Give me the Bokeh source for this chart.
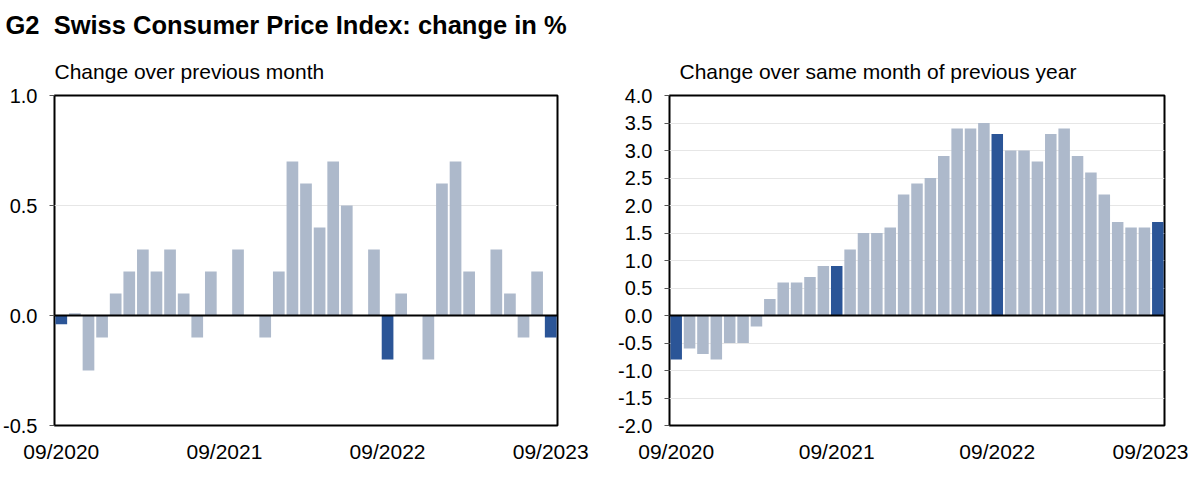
from bokeh.plotting import figure
from bokeh.models import Range1d, FixedTicker, PrintfTickFormatter, Span, Title, ColumnDataSource
from bokeh.layouts import row
from bokeh.embed import file_html
from bokeh.resources import INLINE

# ---- data ----
months = ["09/2020", "10/2020", "11/2020", "12/2020", "01/2021", "02/2021", "03/2021", "04/2021",
          "05/2021", "06/2021", "07/2021", "08/2021", "09/2021", "10/2021", "11/2021", "12/2021",
          "01/2022", "02/2022", "03/2022", "04/2022", "05/2022", "06/2022", "07/2022", "08/2022",
          "09/2022", "10/2022", "11/2022", "12/2022", "01/2023", "02/2023", "03/2023", "04/2023",
          "05/2023", "06/2023", "07/2023", "08/2023", "09/2023"]
mom = [-0.04, 0.01, -0.25, -0.1, 0.1, 0.2, 0.3, 0.2, 0.3, 0.1, -0.1, 0.2, 0.0, 0.3, 0.0, -0.1,
       0.2, 0.7, 0.6, 0.4, 0.7, 0.5, 0.0, 0.3, -0.2, 0.1, 0.0, -0.2, 0.6, 0.7, 0.2, 0.0,
       0.3, 0.1, -0.1, 0.2, -0.1]
yoy = [-0.8, -0.6, -0.7, -0.8, -0.5, -0.5, -0.2, 0.3, 0.6, 0.6, 0.7, 0.9, 0.9, 1.2, 1.5, 1.5,
       1.6, 2.2, 2.4, 2.5, 2.9, 3.4, 3.4, 3.5, 3.3, 3.0, 3.0, 2.8, 3.3, 3.4, 2.9, 2.6,
       2.2, 1.7, 1.6, 1.6, 1.7]
x_tick_labels = ["09/2020", "09/2021", "09/2022", "09/2023"]
left_yticks = [-0.5, 0.0, 0.5, 1.0]
right_yticks = [-2.0, -1.5, -1.0, -0.5, 0.0, 0.5, 1.0, 1.5, 2.0, 2.5, 3.0, 3.5, 4.0]

LIGHT = "#adb9cb"
DARK = "#2b5597"
FONT = "Liberation Sans"

idx = list(range(len(months)))
colors = [DARK if m.startswith("09/") else LIGHT for m in months]
tick_pos = [i for i, m in enumerate(months) if m in x_tick_labels]


def make_panel(values, yr, yticks, grid_ticks, fl, fw, fr, ft, fh, fb):
    p = figure(width=fl + fw + fr, height=ft + fh + fb, frame_width=fw, frame_height=fh,
               min_border_left=fl, min_border_right=fr, min_border_top=ft, min_border_bottom=fb,
               x_range=Range1d(-0.5, len(values) - 0.5), y_range=Range1d(*yr),
               output_backend="svg", toolbar_location=None, title=None)
    src = ColumnDataSource(dict(x=idx, top=values, color=colors))
    p.vbar(x="x", top="top", bottom=0, width=0.86, fill_color="color", line_color=None, source=src)
    p.add_layout(Span(location=0, dimension="width", line_color="black", line_width=2))
    p.outline_line_color = "black"
    p.outline_line_width = 2
    p.xgrid.visible = False
    p.ygrid.ticker = FixedTicker(ticks=grid_ticks)
    p.ygrid.grid_line_color = "#e6e6e6"
    p.ygrid.grid_line_width = 1
    xa = p.xaxis[0]
    xa.ticker = FixedTicker(ticks=tick_pos)
    xa.major_label_overrides = {t: lab for t, lab in zip(tick_pos, x_tick_labels)}
    xa.axis_line_color = None
    xa.major_tick_line_color = None
    xa.minor_tick_line_color = None
    xa.major_tick_out = 0
    xa.major_label_standoff = 14
    xa.major_label_text_font = FONT
    xa.major_label_text_font_size = "21px"
    xa.major_label_text_color = "black"
    ya = p.yaxis[0]
    ya.ticker = FixedTicker(ticks=yticks)
    ya.formatter = PrintfTickFormatter(format="%.1f")
    ya.axis_line_color = None
    ya.major_tick_in = 0
    ya.major_tick_out = 5
    ya.major_tick_line_color = "#555555"
    ya.minor_tick_line_color = None
    ya.major_label_standoff = 12
    ya.major_label_text_font = FONT
    ya.major_label_text_font_size = "20px"
    ya.major_label_text_color = "black"
    p.background_fill_color = "white"
    p.border_fill_color = "white"
    return p


p1 = make_panel(mom, (-0.5, 1.0), left_yticks, [0.5], 50, 503, 39, 92, 330, 56)
p2 = make_panel(yoy, (-2.0, 4.0), right_yticks, [t for t in right_yticks if t != 0.0], 73, 495, 24, 95, 330, 53)

p1.add_layout(Title(text="Change over previous month", align="left", text_font=FONT, text_color="black",
                    text_font_size="21px", text_font_style="normal", standoff=26), "above")
p1.add_layout(Title(text="G2\u00a0\u00a0Swiss Consumer Price Index: change in %", align="left", offset=-49,
                    text_font=FONT, text_color="black", text_font_size="25.5px", text_font_style="bold",
                    standoff=12), "above")
p2.add_layout(Title(text="Change over same month of previous year", align="left", offset=10, text_font=FONT,
                    text_color="black", text_font_size="21px", text_font_style="normal", standoff=26), "above")

layout = row(p1, p2)
open("out.html", "w").write(file_html(layout, INLINE))
